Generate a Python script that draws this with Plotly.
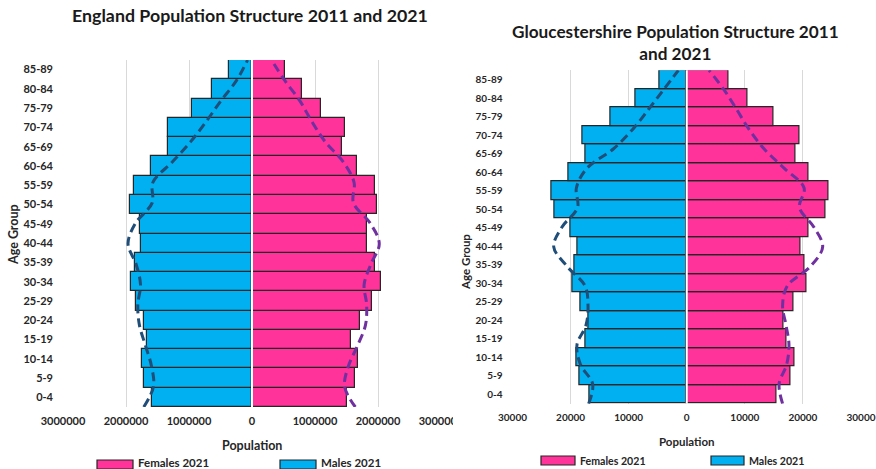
import plotly.graph_objects as go

W, H = 876, 469

age_groups = ["0-4", "5-9", "10-14", "15-19", "20-24", "25-29", "30-34", "35-39", "40-44",
              "45-49", "50-54", "55-59", "60-64", "65-69", "70-74", "75-79", "80-84", "85-89"]

# England
eng_males_2021 = [1580000, 1713000, 1745000, 1660000, 1707000, 1834000, 1914000, 1850000, 1760000,
                  1780000, 1930000, 1877000, 1606000, 1335000, 1335000, 947000, 628000, 362000]
eng_females_2021 = [1505000, 1640000, 1675000, 1570000, 1710000, 1900000, 2050000, 1960000, 1820000,
                    1820000, 1990000, 1946000, 1665000, 1430000, 1470000, 1100000, 800000, 520000]
eng_males_2011 = [1718000, 1564000, 1595000, 1690000, 1786000, 1813000, 1770000, 1840000, 1968000,
                  1850000, 1585000, 1574000, 1266000, 973000, 724000, 494000, 245000, 70000]
eng_females_2011 = [1640000, 1470000, 1530000, 1675000, 1800000, 1820000, 1780000, 1888000, 2020000,
                    1877000, 1610000, 1620000, 1450000, 1160000, 947000, 760000, 520000, 309000]

# Gloucestershire
glo_males_2021 = [16730, 18500, 18900, 17350, 16900, 18330, 19590, 19360, 18730,
                  20000, 22800, 23370, 20400, 17420, 17870, 13180, 8880, 4760]
glo_females_2021 = [15500, 17800, 18500, 17200, 16600, 18400, 20600, 20200, 19500,
                    20900, 23960, 24400, 21000, 18700, 19400, 14900, 10450, 7180]
glo_males_2011 = [16900, 16200, 18300, 18900, 17350, 17000, 17500, 20600, 22900,
                  21500, 18800, 19000, 17200, 12600, 9280, 6600, 4020, 1440]
glo_females_2011 = [16500, 15900, 17200, 17600, 17100, 16500, 17300, 21300, 23400,
                    21900, 19400, 20200, 16800, 13300, 10700, 8600, 6430, 3840]

eng_tickvals = [-3000000, -2000000, -1000000, 0, 1000000, 2000000, 3000000]
eng_ticktext = ["3000000", "2000000", "1000000", "0", "1000000", "2000000", "3000000"]
glo_tickvals = [-30000, -20000, -10000, 0, 10000, 20000, 30000]
glo_ticktext = ["30000", "20000", "10000", "0", "10000", "20000", "30000"]

PINK = "#FF3399"
BLUE = "#00B0F0"
OUTLINE = "#262626"
MALE_LINE = "#1F4E79"
FEMALE_LINE = "#7030A0"
FONT = "Lato"
TXT = "#262626"

line_pos = list(range(len(age_groups)))


def px(x):
    return x / W


def py(y):
    return 1 - y / H


fig = go.Figure()


def add_pyramid(xa, ya, yl, males21, females21, males11, females11):
    fig.add_trace(go.Bar(y=age_groups, x=[-v for v in males21], orientation="h", name="Males 2021",
                         marker=dict(color=BLUE, line=dict(color=OUTLINE, width=1.2)),
                         xaxis=xa, yaxis=ya, showlegend=False))
    fig.add_trace(go.Bar(y=age_groups, x=females21, orientation="h", name="Females 2021",
                         marker=dict(color=PINK, line=dict(color=OUTLINE, width=1.2)),
                         xaxis=xa, yaxis=ya, showlegend=False))
    fig.add_trace(go.Scatter(y=line_pos, x=[-v for v in males11], mode="lines", name="Males 2011",
                             line=dict(color=MALE_LINE, width=3, dash="9px,5px", shape="spline"),
                             xaxis=xa, yaxis=yl, showlegend=False))
    fig.add_trace(go.Scatter(y=line_pos, x=females11, mode="lines", name="Females 2011",
                             line=dict(color=FEMALE_LINE, width=3, dash="9px,5px", shape="spline"),
                             xaxis=xa, yaxis=yl, showlegend=False))


add_pyramid("x", "y", "y3", eng_males_2021, eng_females_2021, eng_males_2011, eng_females_2011)
add_pyramid("x2", "y2", "y4", glo_males_2021, glo_females_2021, glo_males_2011, glo_females_2011)

tickfont_l = dict(family=FONT, size=11, color=TXT, weight="bold")
tickfont_r = dict(family=FONT, size=10, color=TXT, weight="bold")

xcommon = dict(showgrid=True, gridcolor="#D9D9D9", gridwidth=1, zeroline=False, showline=False,
               ticks="", fixedrange=True, ticklabelstandoff=6, automargin=False,
               ticklabeloverflow="allow")
ycommon = dict(type="category", categoryorder="array", categoryarray=age_groups,
               range=[-0.5, 17.5], showgrid=False, zeroline=False, showline=False, ticks="",
               ticklabelstandoff=9, fixedrange=True, automargin=False)

L_x0, L_x1, L_y0, L_y1 = 63, 441, 60, 407
R_x0, R_x1, R_y0, R_y1 = 512.5, 861, 70.3, 403.7

fig.update_layout(
    template="none",
    width=W, height=H,
    margin=dict(l=0, r=0, t=0, b=0, autoexpand=False),
    paper_bgcolor="white", plot_bgcolor="white",
    barmode="overlay", bargap=0,
    showlegend=False,
    xaxis=dict(domain=[px(L_x0), px(L_x1)], range=[-3000000, 3000000], anchor="y",
               tickvals=eng_tickvals, ticktext=eng_ticktext, tickfont=tickfont_l, **xcommon),
    yaxis=dict(domain=[py(L_y1), py(L_y0)], anchor="x", tickfont=tickfont_l, **ycommon),
    yaxis3=dict(overlaying="y", anchor="x", range=[0, 17], visible=False, fixedrange=True,
                automargin=False),
    xaxis2=dict(domain=[px(R_x0), px(R_x1)], range=[-30000, 30000], anchor="y2",
                tickvals=glo_tickvals, ticktext=glo_ticktext, tickfont=tickfont_r, **xcommon),
    yaxis2=dict(domain=[py(R_y1), py(R_y0)], anchor="x2", tickfont=tickfont_r, **ycommon),
    yaxis4=dict(overlaying="y2", anchor="x2", range=[0, 17], visible=False, fixedrange=True,
                automargin=False),
)

shapes = []
# white centre axis lines
for xr, yr in (("x", "y domain"), ("x2", "y2 domain")):
    shapes.append(dict(type="line", xref=xr, yref=yr, x0=0, x1=0, y0=0, y1=1,
                       line=dict(color="white", width=2), layer="above"))
# left chart's picture is cropped by the right chart on the right side
shapes.append(dict(type="rect", xref="paper", yref="paper", x0=px(453), x1=px(492),
                   y0=py(434), y1=py(410), fillcolor="white", line=dict(width=0), layer="above"))

annotations = []
title_font_l = dict(family=FONT, size=17.8, color="#1a1a1a", weight="bold")
title_font_r = dict(family=FONT, size=17.2, color="#1a1a1a", weight="bold")
label_font_l = dict(family=FONT, size=12.5, color=TXT, weight="bold")
label_font_r = dict(family=FONT, size=11.5, color=TXT, weight="bold")
annotations.append(dict(text="England Population Structure 2011 and 2021", xref="paper", yref="paper",
                        x=px(250), y=py(15), showarrow=False, font=title_font_l,
                        xanchor="center", yanchor="middle"))
annotations.append(dict(text="Gloucestershire Population Structure 2011<br>and 2021", xref="paper",
                        yref="paper", x=px(675), y=py(42), showarrow=False, font=title_font_r,
                        xanchor="center", yanchor="middle", align="center"))
annotations.append(dict(text="Population", xref="paper", yref="paper", x=px(252), y=py(445),
                        showarrow=False, font=label_font_l, xanchor="center", yanchor="middle"))
annotations.append(dict(text="Population", xref="paper", yref="paper", x=px(687), y=py(441),
                        showarrow=False, font=label_font_r, xanchor="center", yanchor="middle"))
annotations.append(dict(text="Age Group", xref="paper", yref="paper", x=px(13), y=py(235),
                        showarrow=False, font=label_font_l, textangle=-90,
                        xanchor="center", yanchor="middle"))
annotations.append(dict(text="Age Group", xref="paper", yref="paper", x=px(465), y=py(262),
                        showarrow=False, font=label_font_r, textangle=-90,
                        xanchor="center", yanchor="middle"))

# manual legends (wide swatches like the original)
legend_font_l = dict(family=FONT, size=11.5, color=TXT, weight="bold")
legend_font_r = dict(family=FONT, size=10.6, color=TXT, weight="bold")
legend_items = [
    (97, 133, 460, 469, PINK, "Females 2021", 462, legend_font_l),
    (280, 316, 460, 469, BLUE, "Males 2021", 462, legend_font_l),
    (541, 575, 456, 465, PINK, "Females 2021", 460.5, legend_font_r),
    (711, 744, 456, 465, BLUE, "Males 2021", 460.5, legend_font_r),
]
for x0, x1, y0, y1, col, name, ty, lf in legend_items:
    shapes.append(dict(type="rect", xref="paper", yref="paper", x0=px(x0), x1=px(x1),
                       y0=py(y1), y1=py(y0), fillcolor=col,
                       line=dict(color=OUTLINE, width=1.2), layer="above"))
    annotations.append(dict(text=name, xref="paper", yref="paper", x=px(x1 + 3), y=py(ty),
                            showarrow=False, font=lf, xanchor="left", yanchor="middle"))

fig.update_layout(shapes=shapes, annotations=annotations)

fig.write_html("out.html")
